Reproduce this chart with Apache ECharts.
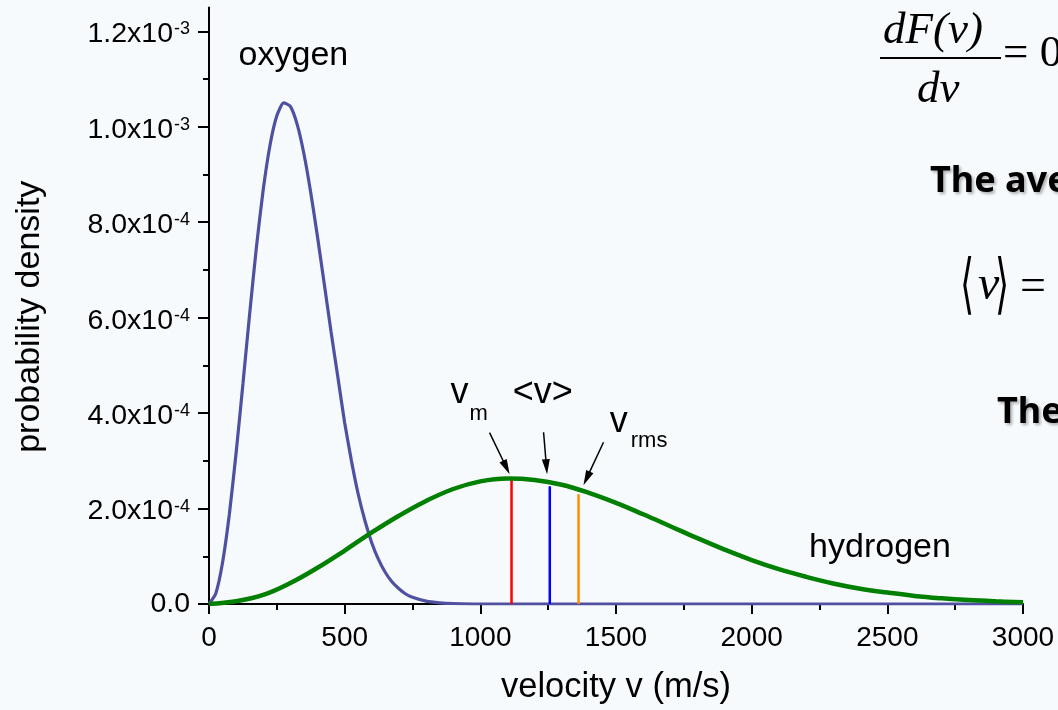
<!DOCTYPE html>
<html>
<head>
<meta charset="utf-8">
<script src="https://cdn.jsdelivr.net/npm/echarts@6/dist/echarts.min.js"></script>
<style>
  html, body { margin: 0; padding: 0; background: #f7fafc; }
  #chart { width: 1058px; height: 710px; }
</style>
</head>
<body>
<div id="chart"></div>
<script>
// velocity (m/s) and probability density
const oxygenV = [0, 25, 50, 75, 100, 125, 150, 175, 200, 225, 250, 275, 300, 325, 350, 375, 400, 425, 450, 475,
  500, 525, 550, 575, 600, 625, 650, 675, 700, 725, 750, 800, 850, 900, 1000, 1200, 1500, 2000, 2500, 3000];
const oxygenP = [0, 0.22e-4, 0.87e-4, 1.88e-4, 3.17e-4, 4.61e-4, 6.09e-4, 7.49e-4, 8.69e-4, 9.62e-4, 10.23e-4, 10.5e-4,
  10.43e-4, 10.05e-4, 9.43e-4, 8.62e-4, 7.69e-4, 6.7e-4, 5.7e-4, 4.75e-4, 3.8e-4, 3.0e-4, 2.3e-4, 1.74e-4, 1.28e-4,
  0.93e-4, 0.66e-4, 0.46e-4, 0.32e-4, 0.21e-4, 0.14e-4, 0.06e-4, 0.025e-4, 0.01e-4, 0, 0, 0, 0, 0, 0];

const hydrogenV = [0, 100, 200, 300, 400, 500, 600, 700, 800, 900, 1000, 1100, 1200, 1300, 1400, 1500, 1600, 1700,
  1800, 1900, 2000, 2100, 2200, 2300, 2400, 2500, 2600, 2700, 2800, 2900, 3000];
const hydrogenP = [0, 0.057e-4, 0.19e-4, 0.44e-4, 0.76e-4, 1.12e-4, 1.5e-4, 1.85e-4, 2.16e-4, 2.41e-4, 2.57e-4, 2.63e-4,
  2.6e-4, 2.5e-4, 2.33e-4, 2.12e-4, 1.88e-4, 1.63e-4, 1.38e-4, 1.14e-4, 0.92e-4, 0.73e-4, 0.57e-4, 0.43e-4, 0.32e-4,
  0.24e-4, 0.17e-4, 0.12e-4, 0.082e-4, 0.056e-4, 0.037e-4];

// v_m, <v>, v_rms markers for hydrogen
const markerV = [1115, 1256, 1362];
const markerTop = [2.63e-4, 2.47e-4, 2.30e-4];

// arrows from the marker labels down to the curve
const arrowFromV = [1034, 1233, 1454];
const arrowFromP = [3.59e-4, 3.6e-4, 3.39e-4];
const arrowToV = [1108, 1246, 1380];
const arrowToP = [2.72e-4, 2.72e-4, 2.49e-4];

const yMajor = [0, 2e-4, 4e-4, 6e-4, 8e-4, 1e-3, 1.2e-3];
const yMinor = [1e-4, 3e-4, 5e-4, 7e-4, 9e-4, 1.1e-3];

const FONT = "'Liberation Sans', Arial, sans-serif";
const SERIF = "'Liberation Serif', 'Times New Roman', serif";
const BOLD = "bold 36px 'Noto Sans', sans-serif";
const markerColors = ["#ff0000", "#0000ff", "#ff8c00"];

const notes = [
  { text: "oxygen", v: 311, p: 1.15e-3, size: 34 },
  { text: "hydrogen", v: 2473, p: 1.18e-4, size: 34 },
  { text: "v", v: 923, p: 4.41e-4, size: 36 },
  { text: "m", v: 994, p: 3.99e-4, size: 22 },
  { text: "<v>", v: 1230, p: 4.42e-4, size: 36 },
  { text: "v", v: 1510, p: 3.82e-4, size: 36 },
  { text: "rms", v: 1622, p: 3.41e-4, size: 22 },
];

function zip(a, b) {
  return a.map((x, i) => [x, b[i]]);
}

function yLabel(value) {
  if (value === 0) return "{z|0.0}";
  const exp = Math.floor(Math.log10(value) + 1e-9);
  const mant = (value / Math.pow(10, exp)).toFixed(1);
  return "{b|" + mant + "x10}{s|" + exp + "}";
}

const markerSeries = markerV.map((v, i) => ({
  type: "line",
  data: [[v, 0], [v, markerTop[i]]],
  showSymbol: false,
  lineStyle: { color: markerColors[i], width: 2.5 },
  z: 3,
}));

const shadow = { textShadowColor: "rgba(0,0,0,0.3)", textShadowBlur: 3, textShadowOffsetX: 2, textShadowOffsetY: 2 };

const chart = echarts.init(document.getElementById("chart"), null, { renderer: "canvas" });

chart.setOption({
  animation: false,
  backgroundColor: "#f7fafc",
  grid: { left: 209, right: 35, top: 7.5, bottom: 104.7, containLabel: false },
  xAxis: {
    type: "value",
    min: 0,
    max: 3000,
    interval: 500,
    axisLine: { lineStyle: { color: "#000", width: 2 } },
    axisTick: { length: 10, lineStyle: { color: "#000", width: 2 } },
    minorTick: { show: true, splitNumber: 2, length: 6, lineStyle: { color: "#000", width: 2 } },
    axisLabel: { fontSize: 28, fontFamily: FONT, color: "#000", margin: 20, formatter: (v) => String(v) },
    splitLine: { show: false },
    name: "velocity v (m/s)",
    nameLocation: "middle",
    nameGap: 66,
    nameTextStyle: { fontSize: 34.5, fontFamily: FONT, color: "#000" },
  },
  yAxis: [
    {
      type: "value",
      min: 0,
      max: 1.25e-3,
      position: "left",
      axisLine: { show: true, lineStyle: { color: "#000", width: 2 } },
      axisTick: { show: true, length: 11, customValues: yMajor, lineStyle: { color: "#000", width: 2 } },
      axisLabel: {
        customValues: yMajor,
        margin: 19,
        formatter: yLabel,
        rich: {
          b: { fontSize: 28.5, lineHeight: 30, padding: [6, 0, 0, 0], fontFamily: FONT, color: "#000" },
          s: { fontSize: 18, lineHeight: 18, padding: [4, 0, 0, 1], verticalAlign: "top", fontFamily: FONT, color: "#000" },
          z: { fontSize: 28.5, fontFamily: FONT, color: "#000" },
        },
      },
      splitLine: { show: false },
      name: "probability density",
      nameLocation: "middle",
      nameGap: 162,
      nameTextStyle: { fontSize: 34, fontFamily: FONT, color: "#000", padding: [0, 22, 0, 0] },
    },
    {
      type: "value",
      min: 0,
      max: 1.25e-3,
      position: "left",
      axisLine: { show: false },
      axisTick: { show: true, length: 6, customValues: yMinor, lineStyle: { color: "#000", width: 2 } },
      axisLabel: { show: false },
      splitLine: { show: false },
    },
  ],
  series: [
    {
      name: "oxygen",
      type: "line",
      data: zip(oxygenV, oxygenP),
      showSymbol: false,
      smooth: 0.2,
      lineStyle: { color: "#5050a0", width: 3.2 },
      z: 2,
    },
    ...markerSeries,
    {
      name: "hydrogen",
      type: "line",
      data: zip(hydrogenV, hydrogenP),
      showSymbol: false,
      smooth: 0.4,
      lineStyle: { color: "#008000", width: 4.5 },
      z: 4,
    },
    {
      type: "custom",
      data: arrowFromV.map((v, i) => [v, arrowFromP[i], arrowToV[i], arrowToP[i]]),
      encode: { x: 0, y: 1 },
      z: 5,
      renderItem(params, api) {
        const a = api.coord([api.value(0), api.value(1)]);
        const b = api.coord([api.value(2), api.value(3)]);
        const dx = b[0] - a[0];
        const dy = b[1] - a[1];
        const len = Math.hypot(dx, dy);
        const ux = dx / len;
        const uy = dy / len;
        const hl = 15;
        const hw = 4;
        const bx = b[0] - ux * hl;
        const by = b[1] - uy * hl;
        return {
          type: "group",
          children: [
            { type: "line", shape: { x1: a[0], y1: a[1], x2: bx + ux * 2, y2: by + uy * 2 }, style: { stroke: "#000", lineWidth: 1.5 } },
            {
              type: "polygon",
              shape: { points: [[b[0], b[1]], [bx - uy * hw, by + ux * hw], [bx + uy * hw, by - ux * hw]] },
              style: { fill: "#000" },
            },
          ],
        };
      },
    },
    {
      type: "custom",
      data: notes.map((n) => [n.v, n.p]),
      encode: { x: 0, y: 1 },
      z: 6,
      renderItem(params, api) {
        const n = notes[params.dataIndex];
        const pt = api.coord([api.value(0), api.value(1)]);
        return {
          type: "text",
          x: pt[0],
          y: pt[1],
          style: { text: n.text, fontSize: n.size, fontFamily: FONT, fill: "#000", align: "center", verticalAlign: "middle" },
        };
      },
    },
  ],
  graphic: [
    // slide text to the right of the plot
    { type: "text", left: 883, top: 9, style: { text: "dF(v)", font: "italic 45px " + SERIF, fill: "#000" } },
    { type: "rect", shape: { x: 880, y: 57, width: 121, height: 2 }, style: { fill: "#000" } },
    { type: "text", left: 917, top: 68, style: { text: "dv", font: "italic 45px " + SERIF, fill: "#000" } },
    { type: "text", left: 1003, top: 32, style: { text: "= 0", font: "45px " + SERIF, fill: "#000" } },
    { type: "text", left: 930, top: 164, style: Object.assign({ text: "The average", font: BOLD, fill: "#000" }, shadow) },
    { type: "text", left: 960, top: 256, scaleX: 0.55, style: { text: "\u27e8", font: "66px " + SERIF, fill: "#000" } },
    { type: "text", left: 978, top: 262, style: { text: "v", font: "italic 48px " + SERIF, fill: "#000" } },
    { type: "text", left: 995, top: 256, scaleX: 0.55, style: { text: "\u27e9", font: "66px " + SERIF, fill: "#000" } },
    { type: "text", left: 1020, top: 265, style: { text: "=", font: "46px " + SERIF, fill: "#000" } },
    { type: "text", left: 997, top: 395, style: Object.assign({ text: "The rms", font: BOLD, fill: "#000" }, shadow) },
  ],
});
</script>
</body>
</html>
